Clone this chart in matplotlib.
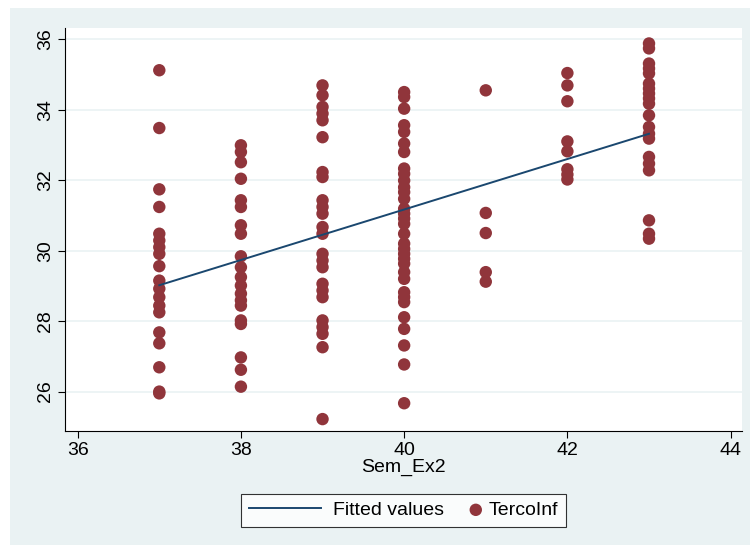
import numpy as np
import matplotlib.pyplot as plt
from matplotlib.patches import Rectangle
from matplotlib.legend_handler import HandlerPathCollection

plt.rcParams['font.family'] = ['Liberation Sans', 'DejaVu Sans']

# TercoInf values by week (Sem_Ex2)
sem_37 = [35.12, 33.48, 31.74, 31.24, 30.48, 30.29, 30.10, 29.91, 29.56, 29.15,
          28.92, 28.68, 28.44, 28.25, 27.68, 27.37, 26.69, 26.00, 25.95]
sem_38 = [32.99, 32.80, 32.51, 32.04, 31.43, 31.24, 30.72, 30.48, 29.84, 29.53,
          29.25, 29.01, 28.78, 28.59, 28.44, 28.02, 27.92, 26.97, 26.62, 26.14]
sem_39 = [34.69, 34.41, 34.08, 33.89, 33.70, 33.22, 32.23, 32.09, 31.43, 31.24,
          31.05, 30.67, 30.48, 29.91, 29.72, 29.53, 29.06, 28.87, 28.68, 28.02,
          27.83, 27.64, 27.26, 25.22]
sem_40 = [34.50, 34.36, 34.03, 33.56, 33.37, 33.04, 32.80, 32.33, 32.18, 31.99,
          31.80, 31.66, 31.47, 31.19, 31.05, 30.91, 30.76, 30.48, 30.20, 30.05,
          29.91, 29.77, 29.63, 29.39, 29.20, 28.82, 28.68, 28.54, 28.11, 27.78,
          27.31, 26.77, 25.67]
sem_41 = [34.55, 31.07, 30.50, 29.39, 29.12]
sem_42 = [35.04, 34.69, 34.24, 33.10, 32.82, 32.31, 32.16, 32.02]
sem_43 = [35.88, 35.74, 35.31, 35.17, 35.03, 34.74, 34.60, 34.46, 34.32, 34.17,
          33.84, 33.51, 33.32, 33.18, 32.66, 32.47, 32.28, 30.86, 30.48, 30.34]

groups = {37: sem_37, 38: sem_38, 39: sem_39, 40: sem_40,
          41: sem_41, 42: sem_42, 43: sem_43}
x = np.concatenate([[k] * len(v) for k, v in groups.items()]).astype(float)
y = np.concatenate([v for v in groups.values()])

# linear fit
slope, intercept = np.polyfit(x, y, 1)
xfit = np.array([x.min(), x.max()])
yfit = intercept + slope * xfit

bg = '#EAF2F3'
fig = plt.figure(figsize=(7.5, 5.45), dpi=100, facecolor='white')
fig.patches.append(Rectangle((10 / 750, 0), 1, 1 - 8 / 545, transform=fig.transFigure,
                             facecolor=bg, edgecolor='none', zorder=-10))

ax = fig.add_axes([0.0867, 0.2097, 0.9027, 0.739])
ax.set_facecolor('white')

ax.plot(xfit, yfit, color='#1A476F', lw=1.4, label='Fitted values', zorder=3)
pts = ax.scatter(x, y, s=80, color='#90353B', edgecolors='none',
                 label='TercoInf', zorder=2)

ax.set_xlim(35.845, 44.14)
ax.set_ylim(24.89, 36.32)
ax.set_xticks([36, 38, 40, 42, 44])
ax.set_yticks([26, 28, 30, 32, 34, 36])
ax.tick_params(axis='both', direction='out', length=5, width=0.8,
               labelsize=14, colors='black', pad=3)
for lab in ax.get_yticklabels():
    lab.set_rotation(90)
    lab.set_va('center')
ax.grid(axis='y', color=bg, lw=1.2)
ax.set_axisbelow(True)
for side in ['top', 'right']:
    ax.spines[side].set_visible(False)
for side in ['left', 'bottom']:
    ax.spines[side].set_linewidth(0.8)

ax.set_xlabel('Sem_Ex2', fontsize=14, labelpad=0)

leg = fig.legend(loc='center', bbox_to_anchor=(0.538, 0.064), ncol=2,
                 fontsize=14, frameon=True, fancybox=False, edgecolor='black',
                 handlelength=3.7, handletextpad=0.6, columnspacing=-2.0,
                 borderpad=0.4,
                 handler_map={pts: HandlerPathCollection(xpad=3.6)})
leg.get_frame().set_linewidth(0.8)

fig.savefig('out.png', dpi=100, facecolor='white')
